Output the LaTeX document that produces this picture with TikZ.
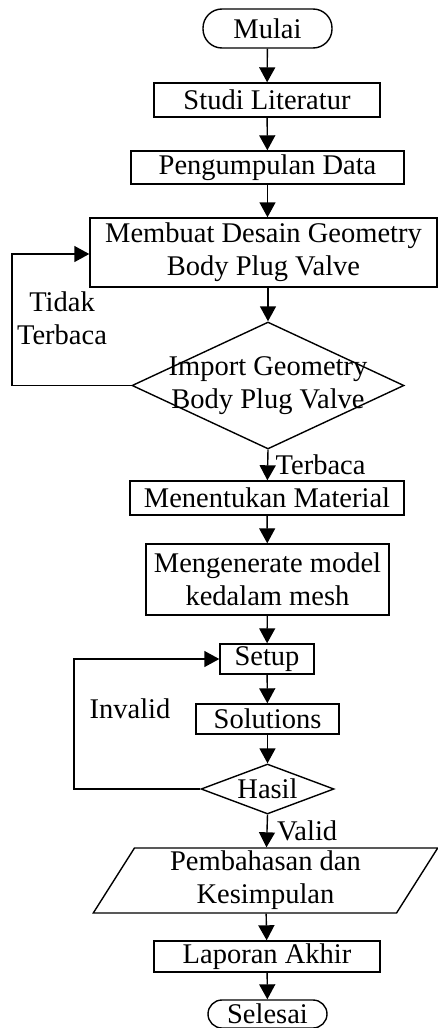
\documentclass[tikz,border=0pt]{standalone}
\usepackage{fontspec}
\setmainfont{Liberation Serif}
\usetikzlibrary{arrows.meta,shapes.geometric}

\begin{document}
\begin{tikzpicture}[x=1pt,y=-1pt,line width=1.4pt,
  font=\fontsize{28.5}{33}\selectfont,
  proses/.style={draw,rectangle,inner sep=0pt,align=center},
  terminal/.style={draw,rectangle,inner sep=0pt},
  keputusan/.style={draw,diamond,inner sep=0pt},
  data/.style={draw,trapezium,trapezium left angle=63,trapezium right angle=117,
    trapezium stretches=true,inner sep=0pt,align=center},
  alur/.style={-{Triangle[length=15pt,width=16pt]}}]
  \useasboundingbox (0,0) rectangle (438,1028);

  % langkah-langkah utama
  \node[terminal,rounded corners=19pt,minimum width=129pt,minimum height=39pt] (mulai) at (267.5,28.5) {Mulai};
  \node[proses,minimum width=226pt,minimum height=34pt] (studi) at (267,100) {Studi Literatur};
  \node[proses,minimum width=273pt,minimum height=33pt] (data) at (267.5,167.5) {Pengumpulan Data};
  \node[proses,minimum width=347pt,minimum height=69pt] (desain) at (263.5,252.5) {Membuat Desain Geometry\\Body Plug Valve};
  \node[keputusan,minimum width=272pt,minimum height=127pt,
    label={[align=center]center:Import Geometry\\Body Plug Valve}] (impor) at (268,385.5) {};
  \node[proses,minimum width=274pt,minimum height=34pt] (material) at (267,498) {Menentukan Material};
  \node[proses,minimum width=243pt,minimum height=71pt] (mesh) at (267.5,579.5) {Mengenerate model\\kedalam mesh};
  \node[proses,minimum width=94pt,minimum height=30pt] (setup) at (267,659) {Setup};
  \node[proses,minimum width=143pt,minimum height=30pt] (solusi) at (267.5,719) {Solutions};
  \node[keputusan,minimum width=133pt,minimum height=50pt,
    label={center:Hasil}] (hasil) at (267.5,789) {};
  \node[data,minimum width=345pt,minimum height=65pt] (bahas) at (265.5,880.5) {Pembahasan dan\\Kesimpulan};
  \node[proses,minimum width=226pt,minimum height=31pt] (laporan) at (267,956.5) {Laporan Akhir};
  \node[terminal,rounded corners=14pt,minimum width=119pt,minimum height=28pt] (selesai) at (267.5,1014) {Selesai};

  % titik belok untuk umpan balik
  \coordinate (tidak) at (12,385.5);
  \coordinate (invalid) at (74,789);

  \draw[alur] (mulai) -- (studi);
  \draw[alur] (studi) -- (data);
  \draw[alur] (data.south) -- (data.south |- desain.north);
  \draw[alur] (desain.south -| impor.north) -- (impor.north);
  \draw[alur] (impor.west) -- (tidak) |- (desain.west |- 0,254);
  \node[align=center] (lbltidak) at (62,318) {Tidak\\Terbaca};
  \draw[alur] (impor.south) -- node[right,xshift=4pt] (lblbaca) {Terbaca} (material);
  \draw[alur] (material) -- (mesh);
  \draw[alur] (mesh) -- (setup);
  \draw[alur] (setup) -- (solusi);
  \draw[alur] (solusi) -- (hasil.north);
  \draw[alur] (hasil.west) -- (invalid) |- (setup.west);
  \node (lblinvalid) at (130,709) {Invalid};
  \draw[alur] (hasil.south) -- node[right,xshift=6pt] (lblvalid) {Valid} (bahas);
  \draw[alur] (bahas) -- (laporan);
  \draw[alur] (laporan) -- (selesai);
\end{tikzpicture}
\end{document}
